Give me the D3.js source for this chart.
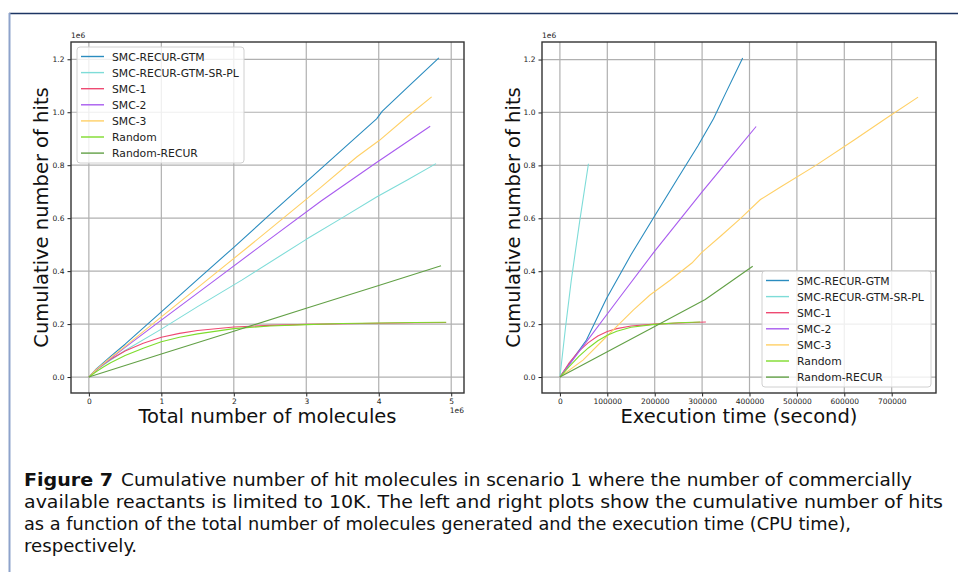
<!DOCTYPE html>
<html>
<head>
<meta charset="utf-8">
<script src="https://cdn.jsdelivr.net/npm/d3@7"></script>
<style>
  body { margin: 0; background: #fff; }
  svg { display: block; }
</style>
</head>
<body>
<div class="fig"></div>
<script>

var width = 958;
var height = 572;

// legend names and line colours
var seriesNames = ["SMC-RECUR-GTM", "SMC-RECUR-GTM-SR-PL", "SMC-1", "SMC-2", "SMC-3", "Random", "Random-RECUR"];
var seriesColors = ["#2a8cbf", "#7edcd8", "#ee4a72", "#a95cef", "#ffd066", "#7edc2c", "#62a046"];

// left plot: [total molecules (1e6), cumulative hits (1e6)]
var molGtm = [[0,0],[0.1,0.03],[0.3,0.078],[0.5,0.124],[1,0.246],[1.49,0.366],[2,0.49],[2.5,0.614],[3,0.737],[3.5,0.86],[3.97,0.975],[4.05,1.004],[4.4,1.095],[4.83,1.205]];
var molSrpl = [[0,0],[0.1,0.026],[0.25,0.055],[0.5,0.1],[1,0.181],[1.5,0.266],[2.11,0.366],[3,0.52],[3.5,0.602],[3.97,0.68],[4.4,0.745],[4.79,0.806]];
var molSmc1 = [[0,0],[0.1,0.026],[0.2,0.048],[0.3,0.067],[0.5,0.098],[0.75,0.128],[1,0.15],[1.25,0.165],[1.5,0.176],[2,0.189],[2.5,0.195],[3,0.199],[3.5,0.201],[4,0.203],[4.5,0.205],[4.93,0.206]];
var molSmc2 = [[0,0],[0.1,0.027],[0.3,0.07],[0.5,0.112],[1,0.215],[1.74,0.366],[2.5,0.522],[3.2,0.664],[3.97,0.81],[4.71,0.947]];
var molSmc3 = [[0,0],[0.1,0.028],[0.3,0.073],[0.5,0.116],[1,0.227],[1.63,0.366],[2.2,0.492],[2.7,0.604],[3.2,0.716],[3.7,0.832],[4.01,0.894],[4.4,0.985],[4.73,1.058]];
var molRandom = [[0,0],[0.1,0.02],[0.2,0.038],[0.3,0.054],[0.5,0.081],[0.75,0.109],[1,0.133],[1.25,0.15],[1.5,0.163],[2,0.183],[2.5,0.193],[3,0.198],[3.5,0.202],[4,0.204],[4.5,0.206],[4.93,0.207]];
var molRecur = [[0,0],[1,0.087],[2,0.173],[3,0.26],[4,0.346],[4.86,0.42]];

// right plot: [execution time (s), cumulative hits (1e6)]
var timeGtm = [[0,0],[20000,0.05],[56000,0.14],[98300,0.297],[150000,0.462],[198500,0.605],[250000,0.755],[291000,0.873],[324000,0.976],[350000,1.074],[385600,1.206]];
var timeSrpl = [[0,0],[12000,0.19],[24000,0.366],[42000,0.592],[60200,0.806]];
var timeSmc1 = [[0,0],[20000,0.055],[40000,0.098],[60000,0.13],[80000,0.155],[100000,0.172],[120000,0.183],[150000,0.193],[200000,0.2],[250000,0.204],[308000,0.208]];
var timeSmc2 = [[0,0],[40000,0.095],[124400,0.297],[200000,0.476],[299500,0.699],[360000,0.83],[414000,0.947]];
var timeSmc3 = [[0,0],[48700,0.064],[91100,0.14],[126500,0.203],[154700,0.253],[190000,0.31],[232400,0.366],[278400,0.431],[299500,0.471],[340000,0.534],[380700,0.599],[423100,0.671],[465500,0.718],[540000,0.8],[620000,0.895],[690000,0.98],[755700,1.058]];
var timeRandom = [[0,0],[20000,0.04],[40000,0.078],[60000,0.11],[80000,0.137],[100000,0.158],[120000,0.173],[150000,0.188],[200000,0.199],[250000,0.205],[296000,0.208]];
var timeRecur = [[0,0],[100000,0.096],[200000,0.191],[306600,0.293],[406800,0.419]];

var yTicks = [0, 0.2, 0.4, 0.6, 0.8, 1.0, 1.2];
var molTicks = [0, 1, 2, 3, 4, 5];
var timeTicks = [0, 100000, 200000, 300000, 400000, 500000, 600000, 700000];

var captionBold = "Figure 7";
var captionLines = [
  "Cumulative number of hit molecules in scenario 1 where the number of commercially",
  "available reactants is limited to 10K. The left and right plots show the cumulative number of hits",
  "as a function of the total number of molecules generated and the execution time (CPU time),",
  "respectively."
];

var svg = d3.select(".fig").append("svg")
    .attr("width", width)
    .attr("height", height);

// page frame
svg.append("line").attr("x1", 9).attr("x2", width).attr("y1", 13.5).attr("y2", 13.5)
    .style("stroke", "#1d3563").style("stroke-width", 1.5);
svg.append("line").attr("x1", 9.5).attr("x2", 9.5).attr("y1", 13).attr("y2", height)
    .style("stroke", "#8ea3cb").style("stroke-width", 2);

function padded(ext) {
  var m = (ext[1] - ext[0]) * 0.05;
  return [ext[0] - m, ext[1] + m];
}

function drawPanel(opt) {
  var g = svg.append("g");
  var all = d3.merge(opt.series);
  var x = d3.scaleLinear().domain(padded(d3.extent(all, function(d){ return d[0]; }))).range([opt.left, opt.right]);
  var y = d3.scaleLinear().domain(padded(d3.extent(all, function(d){ return d[1]; }))).range([opt.bottom, opt.top]);

  // grid
  g.append("g").selectAll("line").data(opt.xTicks).enter().append("line")
      .attr("x1", function(d){ return x(d); }).attr("x2", function(d){ return x(d); })
      .attr("y1", opt.top).attr("y2", opt.bottom)
      .style("stroke", "#b0b0b0").style("stroke-width", 1.2);
  g.append("g").selectAll("line").data(yTicks).enter().append("line")
      .attr("y1", function(d){ return y(d); }).attr("y2", function(d){ return y(d); })
      .attr("x1", opt.left).attr("x2", opt.right)
      .style("stroke", "#b0b0b0").style("stroke-width", 1.2);

  var line = d3.line()
      .x(function(d){ return x(d[0]); })
      .y(function(d){ return y(d[1]); });

  g.append("g").selectAll("path").data(opt.series).enter().append("path")
      .attr("d", line)
      .style("fill", "none")
      .style("stroke", function(d, i){ return seriesColors[i]; })
      .style("stroke-width", 1.1)
      .style("stroke-linejoin", "round");

  var xAxis = g.append("g")
      .attr("transform", "translate(0," + opt.bottom + ")")
      .call(d3.axisBottom(x).tickValues(opt.xTicks).tickSize(3.5).tickPadding(2.5).tickFormat(opt.xFormat));
  var yAxis = g.append("g")
      .attr("transform", "translate(" + opt.left + ",0)")
      .call(d3.axisLeft(y).tickValues(yTicks).tickSize(3.5).tickPadding(3).tickFormat(d3.format(".1f")));
  [xAxis, yAxis].forEach(function(a){
    a.select(".domain").remove();
    a.selectAll("text").style("font-family", "DejaVu Sans").style("font-size", "7.5px").style("fill", "#222");
    a.selectAll("line").style("stroke", "#222");
  });

  g.append("rect")
      .attr("x", opt.left).attr("y", opt.top)
      .attr("width", opt.right - opt.left).attr("height", opt.bottom - opt.top)
      .style("fill", "none").style("stroke", "#333").style("stroke-width", 1.4);

  g.append("text").attr("x", opt.left).attr("y", opt.top - 4)
      .style("font-family", "DejaVu Sans").style("font-size", "7.5px").style("fill", "#222")
      .text("1e6");
  if (opt.xOffset) {
    g.append("text").attr("x", opt.right).attr("y", opt.bottom + 20)
        .attr("text-anchor", "end")
        .style("font-family", "DejaVu Sans").style("font-size", "7.5px").style("fill", "#222")
        .text("1e6");
  }

  g.append("text")
      .attr("transform", "translate(" + opt.yLabelX + "," + ((opt.top + opt.bottom) / 2) + ") rotate(-90)")
      .attr("text-anchor", "middle")
      .style("font-family", "DejaVu Sans").style("font-size", "19.5px").style("fill", "#111")
      .text("Cumulative number of hits");
  g.append("text")
      .attr("x", (opt.left + opt.right) / 2).attr("y", 423)
      .attr("text-anchor", "middle")
      .style("font-family", "DejaVu Sans").style("font-size", "19.5px").style("fill", "#111")
      .text(opt.xLabel);

  // legend
  var lg = g.append("g").attr("transform", "translate(" + opt.legend[0] + "," + opt.legend[1] + ")");
  lg.append("rect").attr("width", opt.legend[2]).attr("height", 116).attr("rx", 3)
      .style("fill", "#fff").style("fill-opacity", 0.8)
      .style("stroke", "#d0d0d0").style("stroke-width", 1);
  var row = lg.selectAll("g.item").data(seriesNames).enter().append("g")
      .attr("class", "item")
      .attr("transform", function(d, i){ return "translate(0," + (9.5 + i * 16.1) + ")"; });
  row.append("line").attr("x1", 4).attr("x2", 27)
      .style("stroke", function(d, i){ return seriesColors[i]; }).style("stroke-width", 1.4);
  row.append("text").attr("x", 35).attr("y", 4)
      .style("font-family", "DejaVu Sans").style("font-size", "10.8px").style("fill", "#222")
      .text(function(d){ return d; });
}

drawPanel({
  left: 71, right: 464, top: 42, bottom: 393,
  series: [molGtm, molSrpl, molSmc1, molSmc2, molSmc3, molRandom, molRecur],
  xTicks: molTicks, xFormat: d3.format("d"), xOffset: true,
  xLabel: "Total number of molecules", yLabelX: 48,
  legend: [77, 47, 167]
});

drawPanel({
  left: 542, right: 936, top: 42, bottom: 393,
  series: [timeGtm, timeSrpl, timeSmc1, timeSmc2, timeSmc3, timeRandom, timeRecur],
  xTicks: timeTicks, xFormat: d3.format("d"), xOffset: false,
  xLabel: "Execution time (second)", yLabelX: 520,
  legend: [762, 271, 169]
});

// caption
var cap = svg.append("g").style("font-family", "'DejaVu Sans Condensed', 'DejaVu Sans', sans-serif")
    .style("font-size", "18.5px").style("fill", "#111");
cap.append("text").attr("x", 24).attr("y", 486)
    .attr("textLength", 89).attr("lengthAdjust", "spacingAndGlyphs")
    .style("font-weight", "bold").text(captionBold);
var capEnds = [912, 943, 851, 137];
captionLines.forEach(function(t, i){
  var x0 = i === 0 ? 121 : 24;
  cap.append("text").attr("x", x0).attr("y", 486 + i * 22)
      .attr("textLength", capEnds[i] - x0).attr("lengthAdjust", "spacingAndGlyphs")
      .text(t);
});

</script>
</body>
</html>
